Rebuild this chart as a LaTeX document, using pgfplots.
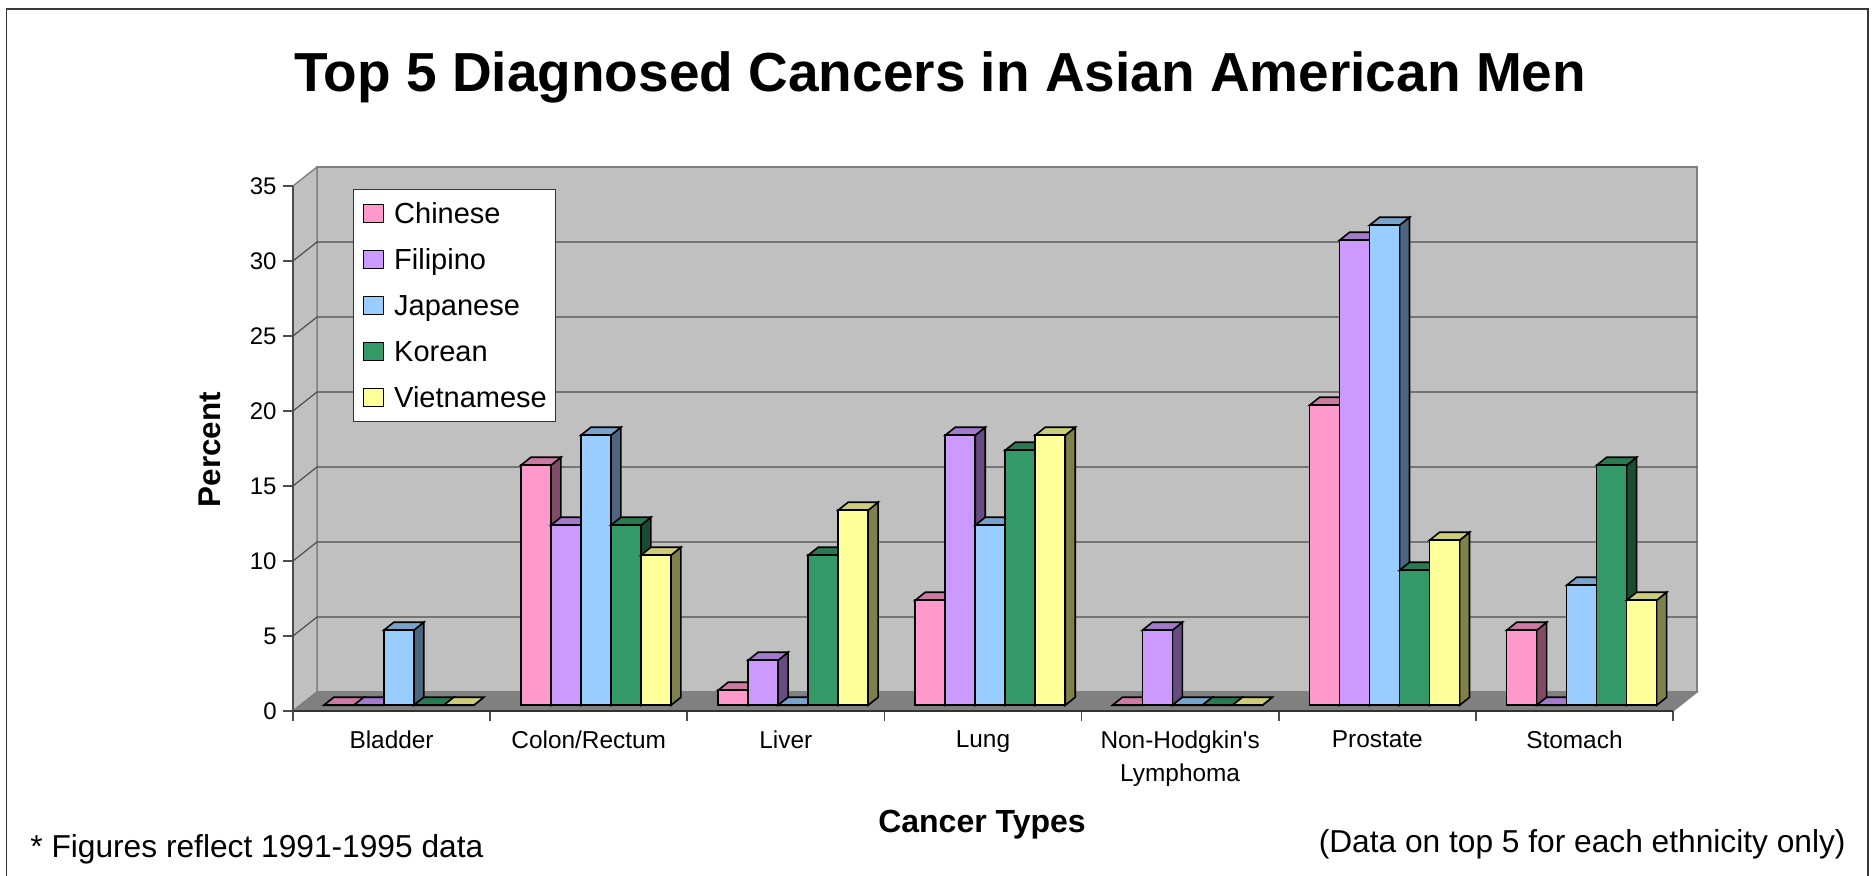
\documentclass[border=0pt]{standalone}
\usepackage{fontspec}
\setmainfont{Liberation Sans}
\usepackage{pgfplots}
\pgfplotsset{compat=1.18}
\usepackage{pgfplotstable}

% bar colours: front face, side face, top face
\definecolor{chnFace}{HTML}{FF99CC}
\definecolor{chnSide}{HTML}{804C66}
\definecolor{chnTop}{HTML}{CC7AA3}
\definecolor{filFace}{HTML}{CC99FF}
\definecolor{filSide}{HTML}{664C80}
\definecolor{filTop}{HTML}{A37ACC}
\definecolor{japFace}{HTML}{99CCFF}
\definecolor{japSide}{HTML}{4C6680}
\definecolor{japTop}{HTML}{7AA3CC}
\definecolor{korFace}{HTML}{339966}
\definecolor{korSide}{HTML}{1A4C33}
\definecolor{korTop}{HTML}{297A52}
\definecolor{vieFace}{HTML}{FFFF99}
\definecolor{vieSide}{HTML}{80804C}
\definecolor{vieTop}{HTML}{CCCC7A}
\definecolor{wallGray}{HTML}{C0C0C0}
\definecolor{floorGray}{HTML}{808080}
\definecolor{gridGray}{HTML}{4D4D4D}

% percent of diagnosed cancers, by cancer type (x = category centre)
\pgfplotstableread{
x    C   F   J   K   V
0.5  0   0   5   0   0
1.5  16  12  18  12  10
2.5  1   3   0   10  13
3.5  7   18  12  17  18
4.5  0   5   0   0   0
5.5  20  31  32  9   11
6.5  5   0   8   16  7
}\cancers

\pgfdeclareplotmark{blank}{}

% depth of the 3-D box in axis units (12pt across, 9.5pt up)
\def\dX{0.121739}
\def\dY{1.266667}
\def\dXr{7.121739}
\def\dYt{36.266667}

% a 3-D bar drawn below each data point: #1 face, #2 side, #3 top, #4 x offset (pt)
\pgfplotsset{
  bar3d/.style n args={4}{
    forget plot, only marks, scatter, mark=blank, point meta=y,
    scatter/@pre marker code/.code={%
      \pgfmathfloattofixed{\pgfplotspointmeta}\let\barVal\pgfmathresult
      \pgfmathsetmacro\barHt{7.5*\barVal}%
      \pgfmathsetmacro\barLe{#4-3.9}%
      \pgfmathsetmacro\barRi{#4+11.1}%
      \pgfmathsetmacro\barBo{2.85-\barHt}%
      \pgfmathsetmacro\barLd{\barLe+5}%
      \pgfmathsetmacro\barRd{\barRi+5}%
      \pgfmathsetmacro\barBd{\barBo+4}%
      \def\barTo{2.85}\def\barTd{6.85}%
      \filldraw[fill=#2, draw=black, line width=0.8pt]
        (\barRi pt,\barBo pt) -- (\barRd pt,\barBd pt) -- (\barRd pt,\barTd pt) -- (\barRi pt,\barTo pt) -- cycle;
      \filldraw[fill=#3, draw=black, line width=0.8pt]
        (\barLe pt,\barTo pt) -- (\barRi pt,\barTo pt) -- (\barRd pt,\barTd pt) -- (\barLd pt,\barTd pt) -- cycle;
      \filldraw[fill=#1, draw=black, line width=0.8pt]
        (\barLe pt,\barBo pt) rectangle (\barRi pt,\barTo pt);
    },
    scatter/@post marker code/.code={},
  },
  swatch/.style={legend image code/.code={%
    \filldraw[fill=#1, draw=black, line width=0.8pt] (0pt,-4.5pt) rectangle (10pt,4.5pt);}},
}

\begin{document}
\begin{tikzpicture}
\path[use as bounding box] (-146.5pt,-82.5pt) rectangle (790pt,355.5pt);
\draw[black!78, line width=0.75pt]
  (-143.15pt,-95pt) -- (-143.15pt,350.9pt) -- (787.5pt,350.9pt) -- (787.5pt,-95pt);

\begin{axis}[
  at={(0pt,0pt)}, anchor=south west,
  width=690pt, height=262.5pt, scale only axis,
  xmin=0, xmax=7, ymin=0, ymax=35,
  clip=false, axis on top,
  axis x line*=bottom, axis y line*=left,
  x axis line style={draw=black!80, line width=1.2pt},
  y axis line style={draw=black!70, line width=0.8pt},
  xtick={0,1,2,3,4,5,6,7},
  xticklabels={Bladder, Colon/Rectum, Liver, Lung, {Non-Hodgkin\textquotesingle s\\Lymphoma}, Prostate, Stomach, {}},
  ytick={0,5,10,15,20,25,30,35},
  tick align=outside,
  major tick length=5pt,
  tick style={draw=black!70, line width=0.8pt},
  xticklabel style={font=\fontsize{12.2}{16.5}\selectfont, align=center, inner sep=0pt,
    anchor=north, xshift=49.2857pt, yshift=-4.8pt},
  yticklabel style={font=\fontsize{12}{14}\selectfont, inner sep=0pt, anchor=east, xshift=-3pt},
  /pgf/number format/assume math mode=true,
  ylabel={Percent},
  ylabel style={font=\bfseries\fontsize{15.7}{19}\selectfont,
    at={(axis description cs:-0.0601,0.4981)}, anchor=center},
  xlabel={Cancer Types},
  xlabel style={font=\bfseries\fontsize{16}{19}\selectfont,
    at={(axis description cs:0.4993,-0.2316)}, anchor=base},
  title={Top 5 Diagnosed Cancers in Asian American Men},
  title style={font=\bfseries\fontsize{27.5}{33}\selectfont,
    at={(axis description cs:0.4690,1.1569)}, anchor=base},
  legend cell align=left,
  legend style={at={(0.04348,0.9943)}, anchor=north west,
    draw=black!80, line width=0.6pt, fill=white,
    font=\fontsize{14.5}{17}\selectfont,
    inner xsep=4.5pt, inner ysep=5pt, row sep=9pt, column sep=5pt,
    nodes={inner sep=0pt, text height=12pt, text depth=2pt}},
]
% walls and floor
\filldraw[fill=wallGray, draw=floorGray, line width=0.7pt]
  (axis cs:\dX,\dY) rectangle (axis cs:\dXr,\dYt);
\filldraw[fill=wallGray, draw=floorGray, line width=0.7pt]
  (axis cs:0,0) -- (axis cs:\dX,\dY) -- (axis cs:\dX,\dYt) -- (axis cs:0,35) -- cycle;
\filldraw[fill=floorGray, draw=floorGray, line width=0.7pt]
  (axis cs:0,0) -- (axis cs:7,0) -- (axis cs:\dXr,\dY) -- (axis cs:\dX,\dY) -- cycle;
% gridlines on the side and back walls
\draw[gridGray, line width=0.6pt] (axis cs:0,5)  -- (axis cs:\dX,6.266667)  -- (axis cs:\dXr,6.266667);
\draw[gridGray, line width=0.6pt] (axis cs:0,10) -- (axis cs:\dX,11.266667) -- (axis cs:\dXr,11.266667);
\draw[gridGray, line width=0.6pt] (axis cs:0,15) -- (axis cs:\dX,16.266667) -- (axis cs:\dXr,16.266667);
\draw[gridGray, line width=0.6pt] (axis cs:0,20) -- (axis cs:\dX,21.266667) -- (axis cs:\dXr,21.266667);
\draw[gridGray, line width=0.6pt] (axis cs:0,25) -- (axis cs:\dX,26.266667) -- (axis cs:\dXr,26.266667);
\draw[gridGray, line width=0.6pt] (axis cs:0,30) -- (axis cs:\dX,31.266667) -- (axis cs:\dXr,31.266667);

% bars, back to front within each group
\addplot[bar3d={chnFace}{chnSide}{chnTop}{-30}] table[x=x, y=C] {\cancers};
\addplot[bar3d={filFace}{filSide}{filTop}{-15}] table[x=x, y=F] {\cancers};
\addplot[bar3d={japFace}{japSide}{japTop}{0}]   table[x=x, y=J] {\cancers};
\addplot[bar3d={korFace}{korSide}{korTop}{15}]  table[x=x, y=K] {\cancers};
\addplot[bar3d={vieFace}{vieSide}{vieTop}{30}]  table[x=x, y=V] {\cancers};

\addlegendimage{swatch=chnFace}\addlegendentry{Chinese}
\addlegendimage{swatch=filFace}\addlegendentry{Filipino}
\addlegendimage{swatch=japFace}\addlegendentry{Japanese}
\addlegendimage{swatch=korFace}\addlegendentry{Korean}
\addlegendimage{swatch=vieFace}\addlegendentry{Vietnamese}
\end{axis}

\node[anchor=base west, inner sep=0pt, font=\fontsize{15.85}{19}\selectfont]
  at (-131.5pt,-73.5pt) {* Figures reflect 1991-1995 data};
\node[anchor=base east, inner sep=0pt, font=\fontsize{15.85}{19}\selectfont]
  at (776.5pt,-71pt) {(Data on top 5 for each ethnicity only)};
\end{tikzpicture}
\end{document}
